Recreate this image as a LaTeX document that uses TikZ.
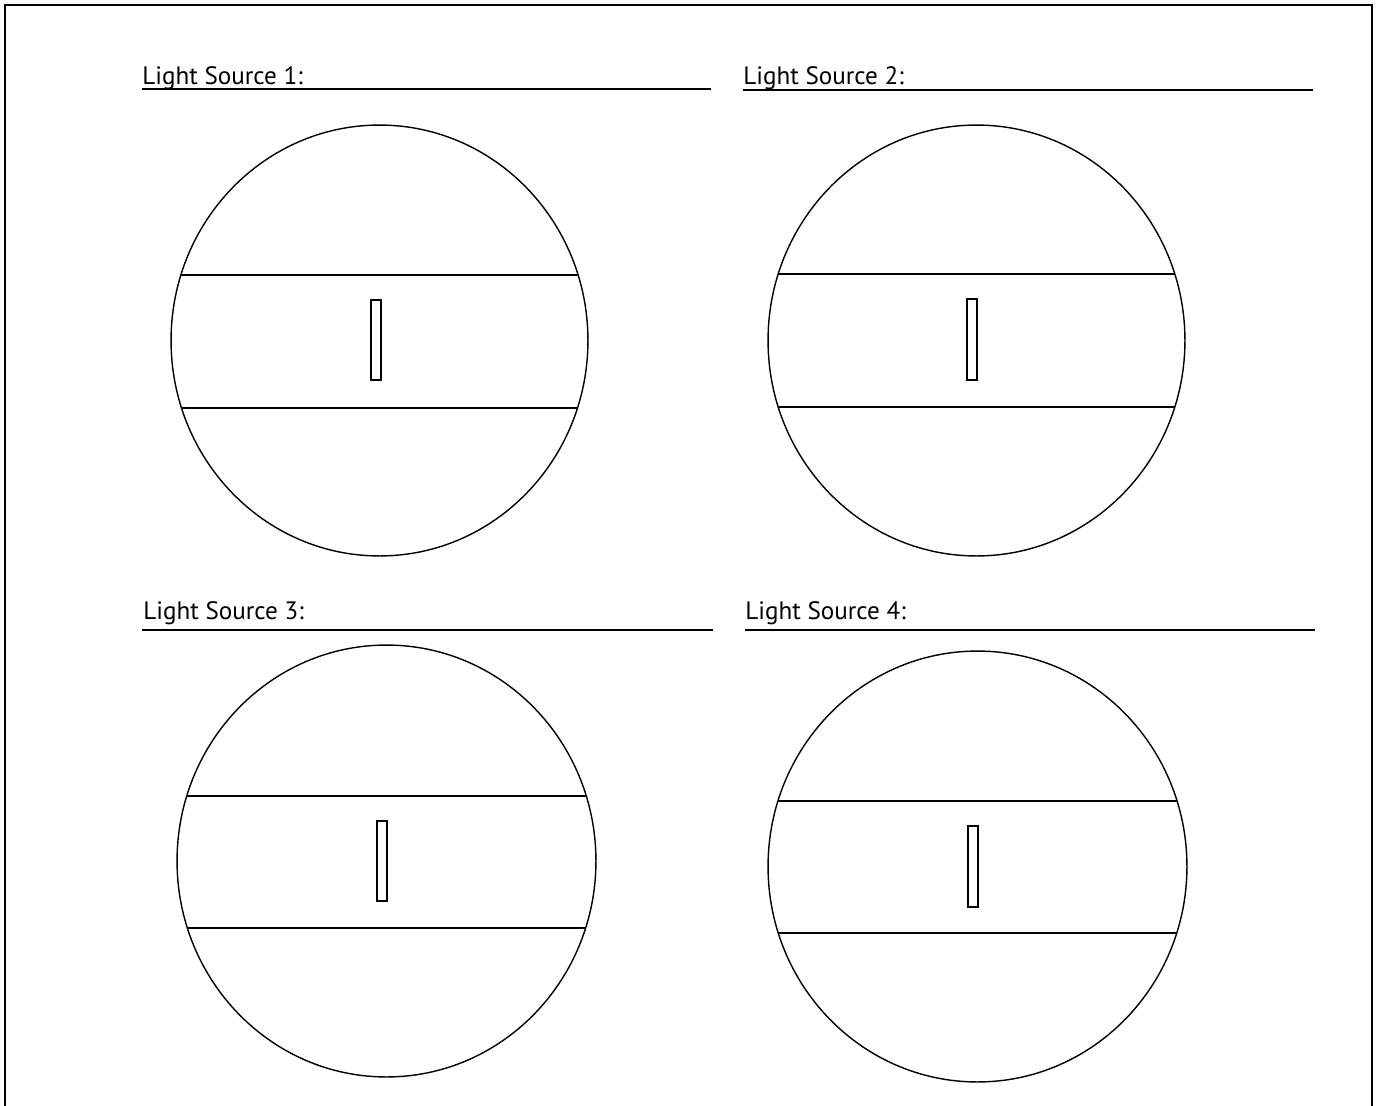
\documentclass[tikz,border=0pt]{standalone}
\usepackage{fontspec}
\setmainfont{PT Sans}
\begin{document}
\begin{tikzpicture}[x=0.02cm, y=-0.02cm,
    frame/.style={line width=1.5pt},
    lens/.style={line width=0.8pt},
    band/.style={line width=0.6pt},
    slit/.style={line width=0.7pt},
    title/.style={anchor=base west, inner sep=0pt, font=\fontsize{14.3}{17}\selectfont},
    rule/.style={line width=0.6pt}]
    \useasboundingbox (0,0) rectangle (1377,1106);

    % outer frame, open at the bottom
    \draw[frame] (5,1106) |- (1372,5) -- (1372,1106);

    % titles
    \node[title] (t1) at (142,84) {Light Source 1:};
    \node[title] (t2) at (743,84) {Light Source 2:};
    \node[title] (t3) at (143,619) {Light Source 3:};
    \node[title] (t4) at (745,619) {Light Source 4:};
    \draw[rule] (142,89) -- (711,89);
    \draw[rule] (743,90) -- (1313,90);
    \draw[rule] (142,630) -- (713,630);
    \draw[rule] (745,630) -- (1315,630);

    % panel 1
    \coordinate (c1) at (379.5,340.5);
    \begin{scope}
        \clip (c1) ellipse [x radius=4.17cm, y radius=4.31cm];
        \draw[band] (100,275) -- (700,275);
        \draw[band] (100,408) -- (700,408);
    \end{scope}
    \draw[lens] (c1) ellipse [x radius=4.17cm, y radius=4.31cm];
    \draw[slit] (371,300) rectangle (381,380);

    % panel 2
    \coordinate (c2) at (976.5,340.5);
    \begin{scope}
        \clip (c2) ellipse [x radius=4.17cm, y radius=4.31cm];
        \draw[band] (700,274) -- (1300,274);
        \draw[band] (700,407) -- (1300,407);
    \end{scope}
    \draw[lens] (c2) ellipse [x radius=4.17cm, y radius=4.31cm];
    \draw[slit] (967,299) rectangle (977,380);

    % panel 3
    \coordinate (c3) at (386.5,861);
    \begin{scope}
        \clip (c3) ellipse [x radius=4.19cm, y radius=4.32cm];
        \draw[band] (100,796) -- (700,796);
        \draw[band] (100,928) -- (700,928);
    \end{scope}
    \draw[lens] (c3) ellipse [x radius=4.19cm, y radius=4.32cm];
    \draw[slit] (377,821) rectangle (387,901);

    % panel 4
    \coordinate (c4) at (977.5,866.5);
    \begin{scope}
        \clip (c4) ellipse [x radius=4.19cm, y radius=4.31cm];
        \draw[band] (700,801) -- (1300,801);
        \draw[band] (700,933) -- (1300,933);
    \end{scope}
    \draw[lens] (c4) ellipse [x radius=4.19cm, y radius=4.31cm];
    \draw[slit] (968,826) rectangle (978,907);
\end{tikzpicture}
\end{document}
